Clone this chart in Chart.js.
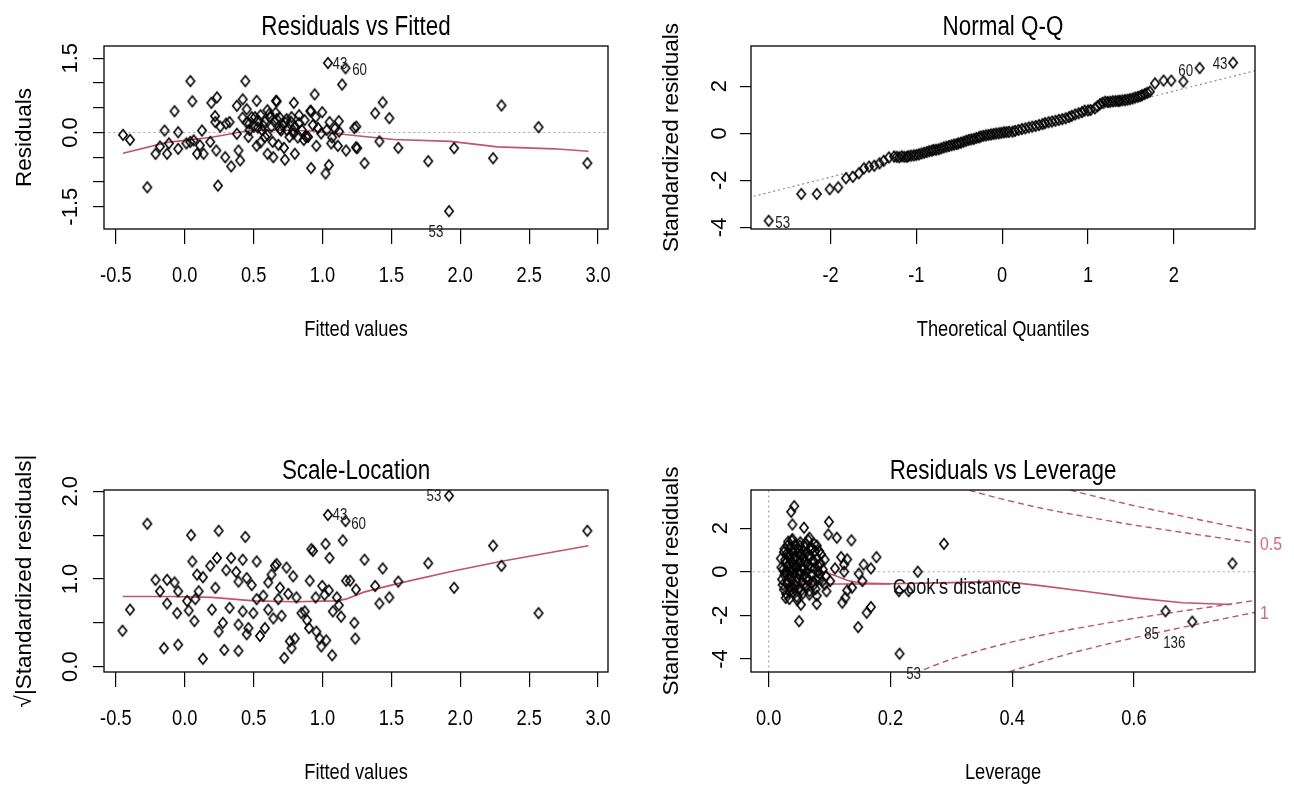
<!DOCTYPE html>
<html>
<head>
<meta charset="utf-8">
<script src="https://cdn.jsdelivr.net/npm/chart.js@4.4.1/dist/chart.umd.min.js"></script>
<style>
  html, body { margin: 0; padding: 0; background: #fff; }
  #wrap { position: relative; width: 1294px; height: 787px; overflow: hidden; background: #fff; }
  canvas { position: absolute; }
</style>
</head>
<body>
<div id="wrap">
  <canvas id="rvf" width="647" height="394" style="left:0;top:0"></canvas>
  <canvas id="qq" width="647" height="394" style="left:647px;top:0"></canvas>
  <canvas id="sl" width="647" height="393" style="left:0;top:394px"></canvas>
  <canvas id="rvl" width="647" height="393" style="left:647px;top:394px"></canvas>
</div>
<script>
// ---- Residuals vs Fitted (first three are obs 43, 60, 53)
const rvfFitted = [1.039, 1.167, 1.918, -0.448, -0.397, -0.272, -0.212, -0.18, -0.146, -0.128,
  -0.115, -0.074, -0.048, -0.048, 0.012, 0.041, 0.055, 0.065, 0.089, 0.125,
  0.137, 0.185, 0.193, 0.222, 0.234, 0.229, 0.241, 0.258, 0.294, 0.325,
  0.337, 0.378, 0.378, 0.39, 0.402, 0.421, 0.44, 0.45, 0.469, 0.462,
  0.486, 0.522, 0.522, 0.534, 0.57, 0.582, 0.601, 0.614, 0.638, 0.643,
  0.662, 0.667, 0.691, 0.72, 0.727, 0.739, 0.775, 0.787, 0.792, 0.799,
  0.83, 0.864, 0.895, 0.912, 0.917, 0.943, 0.955, 0.967, 0.998, 1.022,
  1.046, 1.051, 1.063, 1.111, 1.118, 1.142, 1.171, 1.231, 1.243, 1.245,
  1.252, 1.305, 1.382, 1.437, 1.485, 1.413, 1.55, 1.767, 1.955, 2.238,
  2.299, 2.568, 2.922, 0.45, 0.51, 0.55, 0.6, 0.62, 0.65, 0.7,
  0.73, 0.76, 0.79, 0.83, 0.88, 0.95, 0.99, 1.09, 1.12, 0.11,
  0.04, 0.22, 0.3, 0.915, 0.668, 0.5, 0.56, 0.53, 0.58, 0.63,
  0.66, 0.69, 0.71, 0.74, 0.77, 0.8, 0.82, 0.85, 0.87, 0.6,
  0.55, 0.47, 0.42, 0.68, 0.93, 1.03, 1.07];
const rvfResid = [1.405, 1.30, -1.59, -0.047, -0.148, -1.107, -0.431, -0.283, 0.04, -0.43,
  -0.22, 0.43, 0.006, -0.33, -0.22, 1.04, 0.63, -0.16, -0.43, 0.04,
  -0.43, -0.19, 0.6, 0.21, 0.71, -0.365, -1.073, 0.12, -0.5, 0.21,
  -0.686, 0.54, -0.026, -0.365, -0.565, 0.67, 1.04, 0.47, 0.18, -0.09,
  0.31, 0.64, -0.27, 0.24, 0.14, -0.09, -0.43, 0.38, -0.19, -0.5,
  0.64, 0.27, 0.07, -0.31, -0.55, 0.27, 0.31, 0.04, 0.6, -0.43,
  0.19, -0.15, -0.09, 0.43, -0.72, 0.77, -0.27, 0.09, 0.41, -0.83,
  -0.66, 0.21, -0.22, -0.27, 0.23, 0.97, -0.365, 0.09, -0.3, 0.12,
  -0.317, -0.62, 0.39, 0.61, 0.29, -0.18, -0.31, -0.58, -0.317, -0.52,
  0.547, 0.108, -0.62, 0.2, 0.31, 0.35, 0.45, 0.31, 0.22, 0.04,
  0.2, -0.09, -0.02, 0.35, -0.09, 0.31, -0.02, 0.08, 0.02, -0.26,
  -0.19, 0.33, 0.18, 0.44, 0.63, 0.12, 0.05, 0.1, 0.22, 0.12,
  0.4, 0.3, 0.15, 0.05, 0.22, 0.12, -0.1, 0.05, 0.25, -0.05,
  -0.2, 0.05, 0.3, -0.25, 0.15, 0.05, -0.1];
const rvfSmoothX = [-0.448, -0.128, 0.185, 0.45, 0.69, 0.93, 1.23, 1.52, 1.93, 2.27, 2.68, 2.93];
const rvfSmoothY = [-0.42, -0.2, -0.1, 0.03, 0.05, 0.03, -0.06, -0.14, -0.18, -0.29, -0.33, -0.38];
const rvfZeroX = [-0.7, 3.2];
const rvfZeroY = [0, 0];
const rvfIds = ['43', '60', '53'];
const fittedTicks = [-0.5, 0, 0.5, 1, 1.5, 2, 2.5, 3];
const fittedTickLabels = ['-0.5', '0.0', '0.5', '1.0', '1.5', '2.0', '2.5', '3.0'];
const residTicks = [-1.5, -1, -0.5, 0, 0.5, 1, 1.5];
const residTickLabels = ['-1.5', '', '', '0.0', '', '', '1.5'];

// ---- Normal Q-Q (first three are obs 53, 60, 43)
const qqTheo = [-2.72, 2.30, 2.69, -2.34, -2.16, -2.01, -1.91, -1.82, -1.74, -1.67,
  -1.61, -1.55, -1.49, -1.43, -1.38, -1.32, -1.26, -1.20, -1.14, -1.09,
  -1.03, -0.97, -0.91, -0.85, -0.80, -0.74, -0.68, -0.62, -0.56, -0.51,
  -0.45, -0.39, -0.33, -0.27, -0.22, -0.16, -0.10, -0.04, 0.02, 0.08,
  0.12, 0.19, 0.27, 0.35, 0.43, 0.50, 0.58, 0.66, 0.74, 0.81,
  0.89, 0.96, 1.03, 1.08, 1.14, 1.20, 1.26, 1.32, 1.37, 1.43,
  1.49, 1.55, 1.61, 1.66, 1.72, 1.78, 1.88, 1.97, 2.11,
  -1.23, -1.17, -1.11, -1.06, -1.0, -0.94, -0.88, -0.82, -0.77, -0.71,
  -0.65, -0.59, -0.53, -0.48, -0.42, -0.36, -0.3, -0.25, -0.19, -0.13,
  -0.07, -0.01, 0.05, 0.15, 0.23, 0.31, 0.39, 0.47, 0.54, 0.62,
  0.70, 0.78, 0.85, 0.93, 1.0, 1.11, 1.17, 1.23, 1.29, 1.35,
  1.4, 1.46, 1.52, 1.58, 1.63, 1.69];
const qqStd = [-3.72, 2.77, 3.0, -2.58, -2.58, -2.38, -2.30, -1.91, -1.85, -1.70,
  -1.49, -1.42, -1.38, -1.28, -1.17, -1.03, -0.99, -1.02, -1.0, -0.97,
  -0.94, -0.90, -0.83, -0.76, -0.71, -0.68, -0.60, -0.54, -0.48, -0.43,
  -0.36, -0.28, -0.24, -0.17, -0.11, -0.07, -0.03, 0.0, 0.04, 0.06,
  0.07, 0.14, 0.21, 0.28, 0.35, 0.43, 0.50, 0.57, 0.64, 0.74,
  0.85, 0.96, 0.99, 1.06, 1.24, 1.34, 1.34, 1.37, 1.38, 1.41,
  1.45, 1.52, 1.58, 1.67, 1.77, 2.12, 2.24, 2.24, 2.20,
  -1.0, -0.98, -1.0, -0.95, -0.92, -0.86, -0.8, -0.74, -0.7, -0.64,
  -0.57, -0.51, -0.46, -0.4, -0.32, -0.26, -0.2, -0.14, -0.09, -0.05,
  -0.01, 0.02, 0.05, 0.1, 0.18, 0.25, 0.31, 0.39, 0.47, 0.53,
  0.6, 0.69, 0.8, 0.9, 0.97, 1.15, 1.3, 1.33, 1.36, 1.37,
  1.4, 1.43, 1.48, 1.55, 1.62, 1.72];
const qqLineX = [-2.95, 2.96];
const qqLineY = [-2.73, 2.67];
const qqIds = ['53', '60', '43'];
const theoTicks = [-2, -1, 0, 1, 2];
const theoTickLabels = ['-2', '-1', '0', '1', '2'];
const stdTicks = [-4, -2, 0, 2];
const stdTickLabels = ['-4', '-2', '0', '2'];

// ---- Scale-Location (first three are obs 43, 60, 53)
const slFitted = [1.039, 1.167, 1.918, -0.452, -0.397, -0.272, -0.212, -0.18, -0.151, -0.128,
  -0.128, -0.074, -0.055, -0.048, -0.048, 0.017, 0.029, 0.046, 0.055, 0.07,
  0.077, 0.089, 0.101, 0.132, 0.132, 0.185, 0.197, 0.222, 0.234, 0.246,
  0.246, 0.277, 0.287, 0.301, 0.325, 0.337, 0.373, 0.39, 0.39, 0.39,
  0.421, 0.421, 0.44, 0.45, 0.45, 0.462, 0.486, 0.498, 0.522, 0.522,
  0.546, 0.57, 0.582, 0.606, 0.606, 0.63, 0.643, 0.655, 0.667, 0.679,
  0.691, 0.703, 0.722, 0.739, 0.751, 0.763, 0.775, 0.787, 0.799, 0.811,
  0.847, 0.871, 0.888, 0.902, 0.907, 0.919, 0.931, 0.95, 0.955, 0.979,
  0.991, 0.998, 1.015, 1.022, 1.027, 1.046, 1.051, 1.07, 1.075, 1.104,
  1.118, 1.135, 1.147, 1.171, 1.2, 1.231, 1.238, 1.243, 1.305, 1.382,
  1.413, 1.437, 1.485, 1.55, 1.767, 1.955, 2.238, 2.299, 2.568, 2.922];
const slRoot = [1.73, 1.66, 1.95, 0.41, 0.65, 1.63, 0.99, 0.86, 0.21, 0.99,
  0.72, 0.96, 0.61, 0.86, 0.25, 0.75, 0.64, 1.5, 1.2, 0.52,
  0.77, 1.05, 0.86, 1.02, 0.09, 1.15, 0.65, 0.9, 1.24, 1.55,
  0.40, 0.5, 0.19, 1.1, 0.67, 1.24, 1.08, 0.97, 0.48, 0.18,
  1.22, 0.63, 1.48, 1.01, 0.37, 0.44, 0.93, 0.61, 1.20, 0.77,
  0.35, 0.81, 0.44, 0.96, 0.65, 1.05, 0.55, 1.15, 1.17, 0.77,
  0.90, 0.58, 0.10, 1.13, 0.83, 0.29, 0.21, 1.03, 0.32, 0.79,
  0.61, 0.63, 0.53, 0.44, 0.98, 1.34, 1.32, 0.79, 0.40, 0.32,
  0.23, 0.92, 0.82, 1.40, 0.30, 0.87, 1.24, 0.13, 0.63, 0.79,
  0.70, 0.57, 1.44, 0.98, 0.98, 0.5, 0.32, 0.88, 1.22, 0.92,
  0.72, 1.12, 0.79, 0.97, 1.18, 0.90, 1.38, 1.15, 0.61, 1.55];
const slSmoothX = [-0.45, -0.1, 0.2, 0.5, 0.8, 1.1, 1.17, 1.3, 1.55, 1.95, 2.29, 2.93];
const slSmoothY = [0.80, 0.80, 0.79, 0.75, 0.74, 0.75, 0.77, 0.85, 0.95, 1.09, 1.2, 1.38];
const slIds = ['43', '60', '53'];
const rootTicks = [0, 0.5, 1, 1.5, 2];
const rootTickLabels = ['0.0', '', '1.0', '', '2.0'];

// ---- Residuals vs Leverage (first three are obs 53, 85, 136)
const levH = [0.215, 0.652, 0.696, 0.762, 0.042, 0.037, 0.039, 0.058, 0.099, 0.098,
  0.112, 0.136, 0.288, 0.119, 0.129, 0.177, 0.156, 0.168, 0.148, 0.154,
  0.245, 0.124, 0.124, 0.129, 0.126, 0.121, 0.137, 0.168, 0.161, 0.147,
  0.05, 0.079, 0.053, 0.214, 0.23, 0.092, 0.101, 0.109, 0.094, 0.083,
  0.075, 0.067, 0.020, 0.022, 0.024, 0.025, 0.026, 0.027, 0.028, 0.029,
  0.030, 0.030, 0.031, 0.032, 0.033, 0.034, 0.034, 0.035, 0.036, 0.036,
  0.037, 0.038, 0.039, 0.039, 0.040, 0.041, 0.042, 0.043, 0.044, 0.044,
  0.045, 0.046, 0.047, 0.048, 0.049, 0.050, 0.050, 0.051, 0.052, 0.053,
  0.054, 0.055, 0.056, 0.057, 0.058, 0.059, 0.060, 0.061, 0.062, 0.063,
  0.064, 0.065, 0.066, 0.067, 0.068, 0.070, 0.071, 0.072, 0.074, 0.075,
  0.076, 0.078, 0.079, 0.080, 0.082, 0.084, 0.086, 0.088,
  0.021, 0.023, 0.025, 0.026, 0.027, 0.028, 0.029, 0.031, 0.032, 0.033,
  0.035, 0.035, 0.037, 0.038, 0.040, 0.041, 0.042, 0.043, 0.045, 0.046,
  0.047, 0.048, 0.050, 0.051, 0.053, 0.054, 0.056, 0.057, 0.059, 0.060,
  0.062, 0.063, 0.065, 0.067, 0.069, 0.070, 0.073, 0.075, 0.077, 0.079,
  0.081, 0.083, 0.085, 0.089, 0.092, 0.095];
const levStd = [-3.76, -1.81, -2.29, 0.38, 3.01, 2.75, 2.17, 2.02, 2.29, 1.71,
  1.56, 1.44, 1.28, 0.67, 0.57, 0.67, 0.33, 0.15, -0.09, -0.43,
  0.0, 0.33, 0.0, -0.86, -1.19, -1.42, -0.73, -1.62, -1.88, -2.54,
  -2.27, -1.48, -1.51, -0.89, -0.89, -0.58, -0.43, 0.15, -0.2, 0.95,
  1.28, 1.56, 0.61, -0.35, 0.12, -0.82, 1.05, -0.05, 0.42, -1.02,
  0.85, -0.55, 0.25, 1.38, -0.22, 0.65, -1.25, 1.12, -0.7, 0.05,
  0.48, -0.4, 1.5, 0.92, -0.95, 0.3, -0.12, 0.72, -0.62, 1.25,
  0.15, -1.15, 0.55, -0.3, 1.02, -0.8, 0.38, -0.02, 1.35, 0.8,
  -0.5, 0.2, -1.0, 0.62, -0.18, 1.15, 0.45, -0.7, 0.0, 0.9,
  -0.4, 1.45, 0.3, -0.9, 0.7, -0.15, 1.1, 0.5, -0.6, 0.15,
  0.95, -0.35, -1.1, 0.6, 0.25, -0.1, 0.8, -0.45,
  0.2, -0.6, 0.9, -0.15, 0.55, -1.2, 0.05, 1.2, -0.45, 0.35,
  -0.9, 0.78, -0.25, 1.42, 0.12, -0.75, 0.58, 1.0, -0.45, 0.28,
  -1.3, 0.85, -0.1, 1.2, 0.45, -0.85, 0.1, 0.95, -0.55, 1.3,
  0.35, -0.25, 0.7, -1.05, 0.2, 1.0, -0.45, 0.45, -0.8, 1.2,
  0.0, -0.3, 0.4, 0.1, 0.55, -0.9];
const levSmoothX = [0.017, 0.03, 0.05, 0.07, 0.09, 0.11, 0.13, 0.15, 0.2, 0.3, 0.38, 0.45, 0.525, 0.6, 0.68, 0.76];
const levSmoothY = [0.0, 0.06, 0.09, 0.08, 0.0, -0.18, -0.4, -0.52, -0.55, -0.5, -0.43, -0.65, -0.92, -1.2, -1.42, -1.5];
const levLowX = [0.017, 0.06, 0.11, 0.2];
const levLowY = [-0.55, -0.56, -0.56, -0.56];
const cook05UpX = [0.33, 0.36, 0.40, 0.45, 0.50, 0.55, 0.60, 0.65, 0.70, 0.75, 0.80];
const cook05Up = [3.74, 3.50, 3.22, 2.90, 2.63, 2.38, 2.14, 1.93, 1.72, 1.52, 1.31];
const cook05LoX = [0.24, 0.27, 0.30, 0.35, 0.40, 0.45, 0.50, 0.55, 0.60, 0.65, 0.70, 0.75, 0.80];
const cook05Lo = [-4.67, -4.32, -4.01, -3.58, -3.22, -2.90, -2.63, -2.38, -2.14, -1.93, -1.72, -1.52, -1.31];
const cook1UpX = [0.48, 0.50, 0.55, 0.60, 0.65, 0.70, 0.75, 0.80];
const cook1Up = [3.87, 3.71, 3.36, 3.03, 2.73, 2.43, 2.14, 1.86];
const cook1LoX = [0.38, 0.40, 0.45, 0.50, 0.55, 0.60, 0.65, 0.70, 0.75, 0.80];
const cook1Lo = [-4.75, -4.55, -4.11, -3.71, -3.36, -3.03, -2.73, -2.43, -2.14, -1.86];
const levZeroX = [-0.1, 0.9];
const levZeroY = [0, 0];
const levVertX = [0, 0];
const levVertY = [-6, 5];
const levIds = ['53', '85', '136'];
const cookLevels = ['0.5', '1'];
const cookLevelAt = [1.25, -1.92];
const levTicks = [0, 0.2, 0.4, 0.6];
const levTickLabels = ['0.0', '0.2', '0.4', '0.6'];

// ---- drawing
const SANS = "'Liberation Sans', Arial, sans-serif";
const RED = '#c25468';
const GREY = '#a6a6a6';
const X_H = 114.2;   // height of the x axis block under each frame
const TITLE_SIZE = 27;
const SQUEEZE = 0.83; // the source image is narrowed sideways: upright text is condensed, rotated text is not

const baseFillText = CanvasRenderingContext2D.prototype.fillText;
CanvasRenderingContext2D.prototype.fillText = function (text, x, y, maxWidth) {
  const hasMax = maxWidth !== undefined && maxWidth !== null && !isNaN(maxWidth);
  const m = this.getTransform();
  if (m.b !== 0 || m.c !== 0) {
    return hasMax ? baseFillText.call(this, text, x, y, maxWidth) : baseFillText.call(this, text, x, y);
  }
  this.save();
  this.translate(x, y);
  this.scale(SQUEEZE, 1);
  if (hasMax) baseFillText.call(this, text, 0, 0, maxWidth / SQUEEZE);
  else baseFillText.call(this, text, 0, 0);
  this.restore();
};

function diamondImg() {
  const c = document.createElement('canvas');
  c.width = 12; c.height = 14;
  const g = c.getContext('2d');
  g.strokeStyle = '#000';
  g.lineWidth = 1.6;
  g.beginPath();
  g.moveTo(6, 1.8); g.lineTo(10.2, 7); g.lineTo(6, 12.2); g.lineTo(1.8, 7);
  g.closePath();
  g.stroke();
  return c;
}
const DIAMOND = diamondImg();

const pts = (xs, ys) => xs.map((x, i) => ({ x, y: ys[i] }));
const dots = (xs, ys) => ({ data: pts(xs, ys), pointStyle: DIAMOND, pointRadius: 5 });
const line = (xs, ys, color, dash, width) => ({
  data: pts(xs, ys), showLine: true, pointRadius: 0, borderColor: color,
  borderWidth: width || 1.5, borderDash: dash || [], tension: 0, fill: false
});

const rFrame = {
  id: 'rFrame',
  afterDatasetsDraw(chart, args, opts) {
    const { ctx, chartArea: a, scales } = chart;
    ctx.save();
    ctx.strokeStyle = '#000';
    ctx.lineWidth = 1.3;
    ctx.strokeRect(a.left, a.top, a.right - a.left, a.bottom - a.top);
    const data = chart.data.datasets[0].data;
    ctx.font = '16px ' + SANS;
    ctx.fillStyle = '#222';
    ctx.textAlign = 'center';
    ctx.textBaseline = 'middle';
    (opts.ids || []).forEach((t, i) => {
      const p = data[i], off = opts.offsets[i];
      ctx.fillText(t, scales.x.getPixelForValue(p.x) + off[0], scales.y.getPixelForValue(p.y) + off[1]);
    });
    if (opts.note) {
      ctx.font = '22px ' + SANS;
      ctx.fillStyle = '#111';
      ctx.textAlign = 'left';
      ctx.fillText(opts.note.text, scales.x.getPixelForValue(opts.note.x), scales.y.getPixelForValue(opts.note.y));
    }
    ctx.restore();
  }
};

function xAxis(a) {
  return {
    type: 'linear', position: 'bottom', min: a.min, max: a.max,
    afterBuildTicks: s => { s.ticks = a.ticks.map(v => ({ value: v })); },
    afterFit: s => { s.height = X_H; },
    ticks: { autoSkip: false, maxRotation: 0, padding: 18.5, color: '#000',
      font: { family: SANS, size: 22, lineHeight: 1.2 }, callback: (v, i) => a.labels[i] },
    grid: { drawOnChartArea: false, tickLength: 15, color: '#000', lineWidth: 1.2 },
    border: { display: false },
    title: { display: true, text: a.title, color: '#000', padding: 0,
      font: { family: SANS, size: 22, lineHeight: 1.2 } }
  };
}

function yAxis(a) {
  return {
    type: 'linear', position: 'left', min: a.min, max: a.max,
    afterBuildTicks: s => { s.ticks = a.ticks.map(v => ({ value: v })); },
    afterFit: s => { s.width = 104; },
    ticks: { autoSkip: false, minRotation: 90, maxRotation: 90, crossAlign: 'center', padding: a.pad,
      color: '#000', font: { family: SANS, size: 22, lineHeight: 1.2 }, callback: (v, i) => a.labels[i] },
    grid: { drawOnChartArea: false, tickLength: 11, color: '#000', lineWidth: 1.2 },
    border: { display: false },
    title: { display: true, text: a.title, color: '#000', padding: { top: 11.5, bottom: 0 },
      font: { family: SANS, size: 22.5, lineHeight: 1.2 } }
  };
}

function build(id, p) {
  const cv = document.getElementById(id);
  const titleLH = TITLE_SIZE * 1.2;
  const gap = 18.5;   // title centre above the frame
  const scales = { x: xAxis(p.x), y: yAxis(p.y) };
  if (p.y2) scales.y2 = p.y2;
  return new Chart(cv, {
    type: 'scatter',
    data: { datasets: p.datasets },
    options: {
      responsive: false, animation: false, events: [],
      layout: { autoPadding: false, padding: {
        left: 0, top: p.top - gap - titleLH / 2,
        right: p.y2 ? 0 : cv.width - 608, bottom: cv.height - p.bottom - X_H } },
      plugins: {
        legend: { display: false }, tooltip: { enabled: false },
        title: { display: true, text: p.title, fullSize: false, color: '#000',
          font: { family: SANS, size: TITLE_SIZE, weight: 'normal', lineHeight: 1.2 },
          padding: { top: 0, bottom: gap - titleLH / 2 } },
        rFrame: p.frame
      },
      scales
    },
    plugins: [rFrame]
  });
}

build('rvf', {
  title: 'Residuals vs Fitted', top: 46, bottom: 229,
  x: { min: -0.586, max: 3.072, ticks: fittedTicks, labels: fittedTickLabels, title: 'Fitted values' },
  y: { min: -1.951, max: 1.749, ticks: residTicks, labels: residTickLabels, title: 'Residuals', pad: 3 },
  datasets: [
    dots(rvfFitted, rvfResid),
    line(rvfSmoothX, rvfSmoothY, RED, null, 1.6),
    line(rvfZeroX, rvfZeroY, GREY, [2, 3], 1.2)
  ],
  frame: { ids: rvfIds, offsets: [[12, 2], [14, 2], [-13, 21]] }
});

build('qq', {
  title: 'Normal Q-Q', top: 46, bottom: 229,
  x: { min: -2.926, max: 2.945, ticks: theoTicks, labels: theoTickLabels, title: 'Theoretical Quantiles' },
  y: { min: -4.07, max: 3.71, ticks: stdTicks, labels: stdTickLabels, title: 'Standardized residuals', pad: 10 },
  datasets: [
    dots(qqTheo, qqStd),
    line(qqLineX, qqLineY, '#8c8c8c', [2, 3], 1.2)
  ],
  frame: { ids: qqIds, offsets: [[14, 3], [-14, 3], [-13, 2]] }
});

build('sl', {
  title: 'Scale-Location', top: 96, bottom: 278,
  x: { min: -0.586, max: 3.072, ticks: fittedTicks, labels: fittedTickLabels, title: 'Fitted values' },
  y: { min: -0.061, max: 2.015, ticks: rootTicks, labels: rootTickLabels, title: '\u221A|Standardized residuals|', pad: 6.7 },
  datasets: [
    dots(slFitted, slRoot),
    line(slSmoothX, slSmoothY, RED, null, 1.6)
  ],
  frame: { ids: slIds, offsets: [[12, 1], [13, 3], [-15, 1]] }
});

build('rvl', {
  title: 'Residuals vs Leverage', top: 96, bottom: 278,
  x: { min: -0.029, max: 0.799, ticks: levTicks, labels: levTickLabels, title: 'Leverage' },
  y: { min: -4.6, max: 3.75, ticks: stdTicks, labels: stdTickLabels, title: 'Standardized residuals', pad: 9.2 },
  y2: {
    type: 'linear', position: 'right', min: -4.6, max: 3.75,
    afterBuildTicks: s => { s.ticks = cookLevelAt.map(v => ({ value: v })); },
    afterFit: s => { s.width = 39; },
    ticks: { autoSkip: false, padding: 5, color: '#d9687c', font: { family: SANS, size: 19 },
      callback: (v, i) => cookLevels[i] },
    grid: { display: false, drawTicks: false },
    border: { display: false }
  },
  datasets: [
    dots(levH, levStd),
    line(levSmoothX, levSmoothY, RED, null, 1.6),
    line(levLowX, levLowY, RED, null, 1.4),
    line(cook05UpX, cook05Up, RED, [6, 4], 1.4),
    line(cook05LoX, cook05Lo, RED, [6, 4], 1.4),
    line(cook1UpX, cook1Up, RED, [6, 4], 1.4),
    line(cook1LoX, cook1Lo, RED, [6, 4], 1.4),
    line(levZeroX, levZeroY, GREY, [2, 3], 1.2),
    line(levVertX, levVertY, GREY, [2, 3], 1.2)
  ],
  frame: { ids: levIds, offsets: [[14, 21], [-14, 23], [-18, 22]],
    note: { text: "Cook's distance", x: 0.204, y: -0.73 } }
});
</script>
</body>
</html>
